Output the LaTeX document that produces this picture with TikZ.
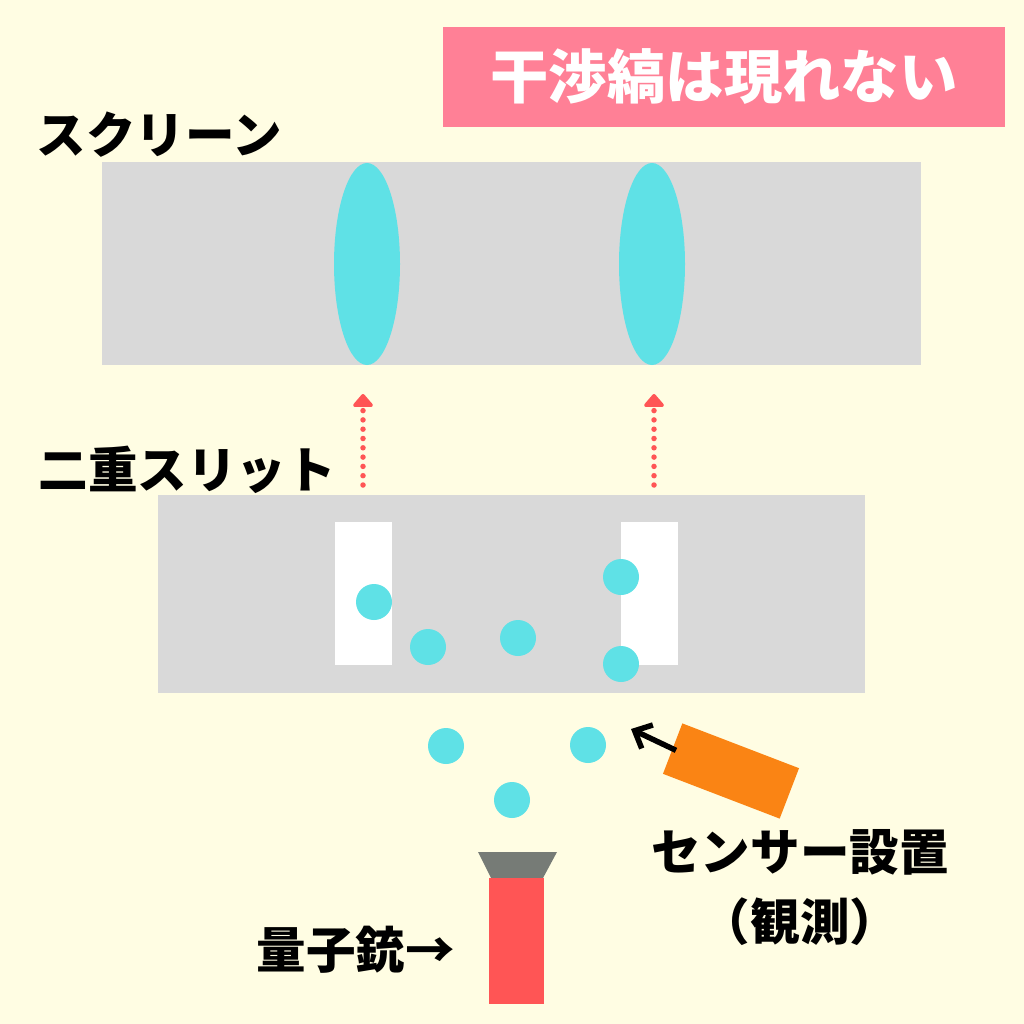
\documentclass[tikz,border=0pt]{standalone}
\usepackage{fontspec}
\newfontfamily\jpfont{Noto Sans CJK JP}
\usetikzlibrary{arrows.meta, positioning}

\definecolor{bgcream}{HTML}{FFFDE3}
\definecolor{titlepink}{HTML}{FF8096}
\definecolor{panelgray}{HTML}{D9D9D9}
\definecolor{waveblue}{HTML}{5FE1E6}
\definecolor{dotred}{HTML}{FF5555}
\definecolor{sensororange}{HTML}{FA8414}
\definecolor{muzzlegray}{HTML}{767B76}

\begin{document}
\begin{tikzpicture}[x=0.1mm, y=-0.1mm,
    label/.style={font=\jpfont\bfseries\fontsize{14.1pt}{16pt}\selectfont, text=black, inner sep=0pt},
    panel/.style={fill=panelgray, draw=none},
    slit/.style={fill=white, draw=none},
    particle/.style={circle, fill=waveblue, minimum size=3.6mm, inner sep=0pt},
    path/.style={dotred, line width=0.55mm, line cap=round, dash pattern=on 0pt off 0.93mm, -{Triangle[width=2.3mm, length=1.4mm, round]}}]

    % background and frame
    \fill[bgcream] (0,0) rectangle (1024,1024);
    \useasboundingbox (0,0) rectangle (1024,1024);

    % title
    \fill[titlepink] (443,27) rectangle (1005,127);
    \node[font=\jpfont\bfseries\fontsize{16.6pt}{19pt}\selectfont, text=white, inner sep=0pt] (title) at (724,77) {干渉縞は現れない};

    % screen
    \node[label, anchor=west] (screenlbl) at (36,135) {スクリーン};
    \fill[panel] (102,162) rectangle (921,365);
    \fill[waveblue] (367,264) ellipse [x radius=33, y radius=101];
    \fill[waveblue] (652,264) ellipse [x radius=33, y radius=101];

    % double slit
    \node[label, anchor=west] (slitlbl) at (38,470) {二重スリット};
    \fill[panel] (158,495) rectangle (865,693);
    \fill[slit] (335,522) rectangle (392,665);
    \fill[slit] (621,522) rectangle (678,665);

    % dotted arrows slit -> screen
    \coordinate (a1) at (363,485);
    \coordinate (b1) at (363,394);
    \coordinate (a2) at (654,485);
    \coordinate (b2) at (654,394);
    \draw[path] (a1) -- (b1);
    \draw[path] (a2) -- (b2);

    % particles
    \node[particle] (p1) at (374,602) {};
    \node[particle] (p2) at (428,647) {};
    \node[particle] (p3) at (518,638) {};
    \node[particle] (p4) at (621,577) {};
    \node[particle] (p5) at (621,664) {};
    \node[particle] (p6) at (446,746) {};
    \node[particle] (p7) at (588,745) {};
    \node[particle] (p8) at (512,800) {};

    % sensor
    \node[fill=sensororange, rotate=-21, minimum width=12.5mm, minimum height=5.4mm, inner sep=0pt] (sensor) at (731,771) {};
    \coordinate (look) at (631,729);
    \draw[line width=0.55mm, -{Straight Barb[length=1.4mm, width=2.6mm]}] ([shift={(4,2)}]sensor.west) -- (look);
    \node[label] (sensorlbl) at (800,852) {センサー設置};
    \node[label] (obslbl) at (800,922) {（観測）};

    % quantum gun
    \fill[muzzlegray] (478,852) -- (557,852) -- (543,878) -- (491,878) -- cycle;
    \fill[dotred] (489,878) rectangle (544,1004);
    \node[label, anchor=west] (gunlbl) at (256,950) {量子銃→};

\end{tikzpicture}
\end{document}
